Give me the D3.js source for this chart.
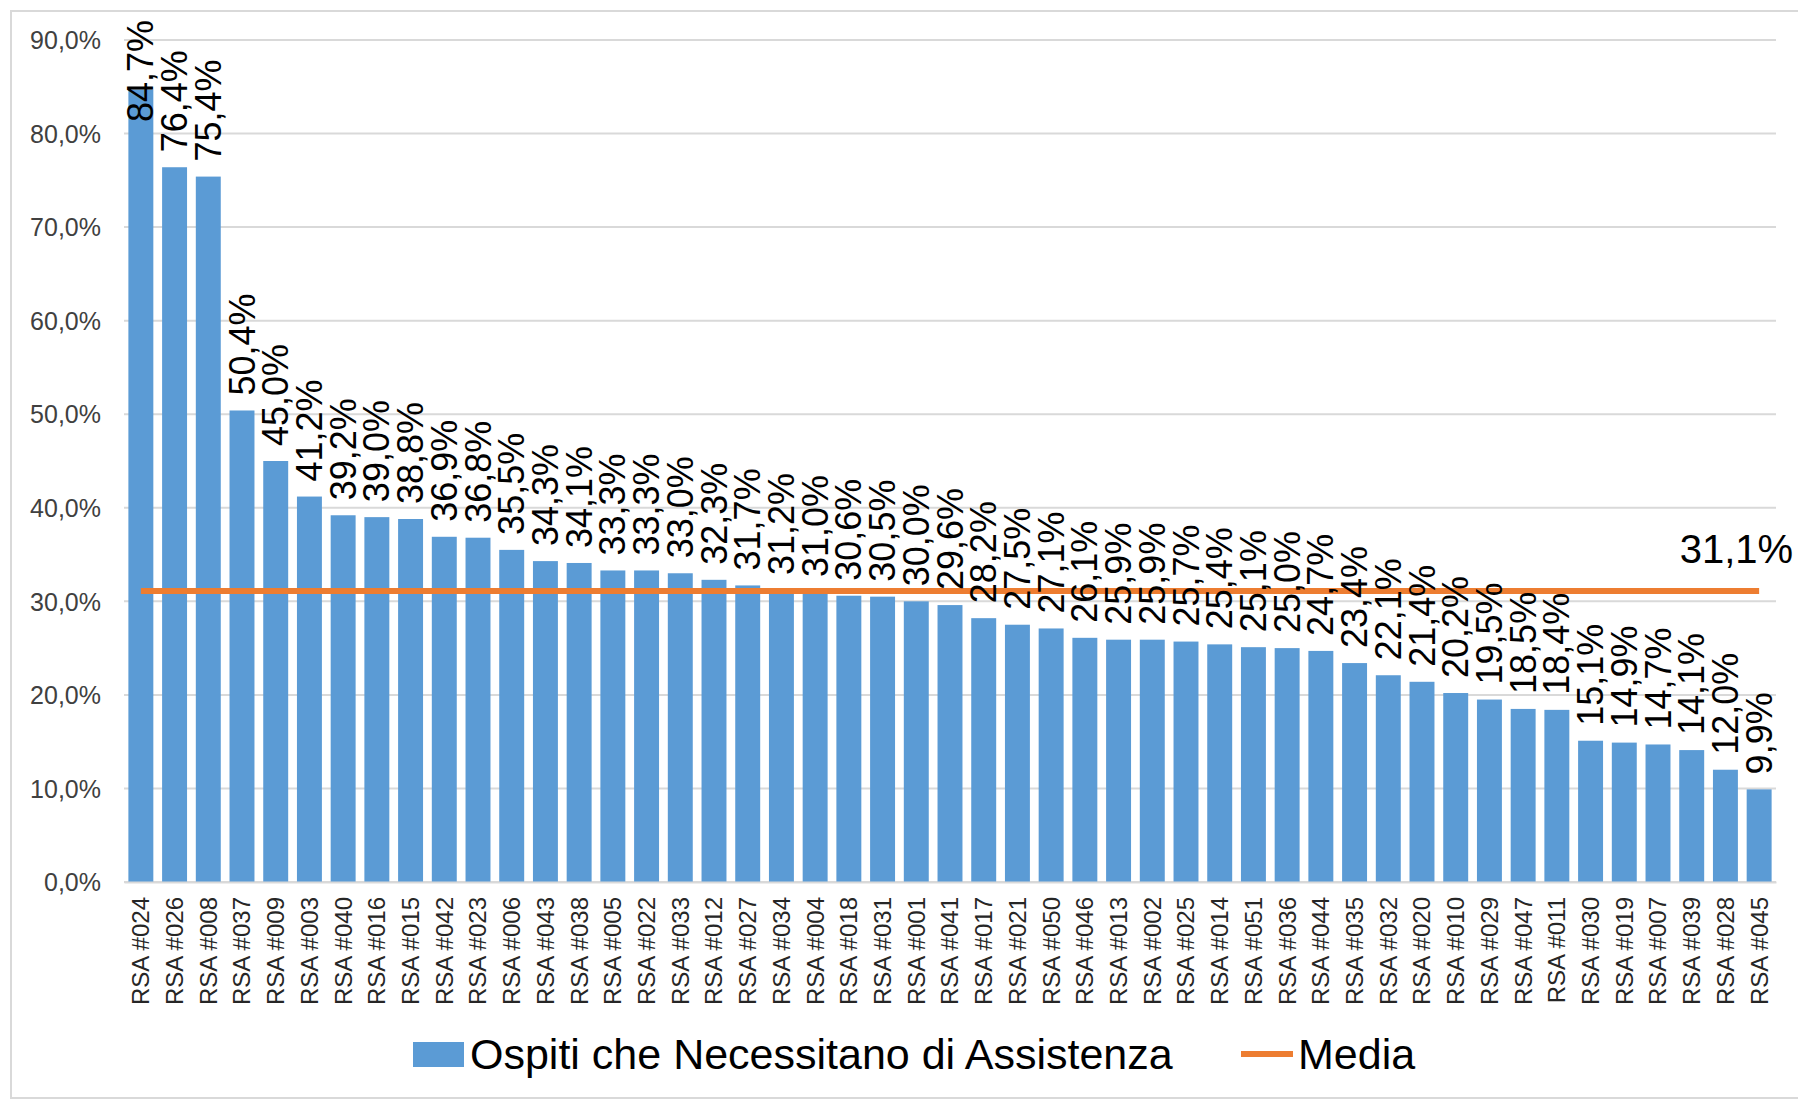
<!DOCTYPE html>
<html>
<head>
<meta charset="utf-8">
<script src="https://cdn.jsdelivr.net/npm/d3@7/dist/d3.min.js"></script>
<style>
  html, body { margin: 0; padding: 0; background: #fff; }
  svg { display: block; font-family: "Liberation Sans", Arial, Helvetica, sans-serif; }
</style>
</head>
<body>
<svg id="chart" width="1798" height="1099"></svg>
<script>
const categories = ["RSA #024","RSA #026","RSA #008","RSA #037","RSA #009","RSA #003","RSA #040","RSA #016","RSA #015","RSA #042","RSA #023","RSA #006","RSA #043","RSA #038","RSA #005","RSA #022","RSA #033","RSA #012","RSA #027","RSA #034","RSA #004","RSA #018","RSA #031","RSA #001","RSA #041","RSA #017","RSA #021","RSA #050","RSA #046","RSA #013","RSA #002","RSA #025","RSA #014","RSA #051","RSA #036","RSA #044","RSA #035","RSA #032","RSA #020","RSA #010","RSA #029","RSA #047","RSA #011","RSA #030","RSA #019","RSA #007","RSA #039","RSA #028","RSA #045"];
const values = [84.7,76.4,75.4,50.4,45.0,41.2,39.2,39.0,38.8,36.9,36.8,35.5,34.3,34.1,33.3,33.3,33.0,32.3,31.7,31.2,31.0,30.6,30.5,30.0,29.6,28.2,27.5,27.1,26.1,25.9,25.9,25.7,25.4,25.1,25.0,24.7,23.4,22.1,21.4,20.2,19.5,18.5,18.4,15.1,14.9,14.7,14.1,12.0,9.9];
const mediaValue = 31.1;
const yTicks = [0,10,20,30,40,50,60,70,80,90];
const seriesNames = ["Ospiti che Necessitano di Assistenza", "Media"];

const fmt = v => d3.format(".1f")(v).replace(".", ",") + "%";

const svg = d3.select("#chart");
const plotL = 124, plotR = 1776, plotT = 40, plotB = 882;

const x = d3.scaleBand().domain(categories).range([plotL, plotR]).paddingInner(0.26).paddingOuter(0.13);
const y = d3.scaleLinear().domain([0, 90]).range([plotB, plotT]);

// outer border
svg.append("rect").attr("x", 11).attr("y", 11).attr("width", 1800).attr("height", 1087)
  .attr("fill", "none").attr("stroke", "#d9d9d9").attr("stroke-width", 2);

// gridlines
svg.append("g").selectAll("line").data(yTicks).join("line")
  .attr("x1", plotL).attr("x2", plotR)
  .attr("y1", d => y(d)).attr("y2", d => y(d))
  .attr("stroke", "#d9d9d9").attr("stroke-width", 2);

// y axis labels
const yAxis = d3.axisLeft(y).tickValues(yTicks).tickFormat(fmt).tickSize(0).tickPadding(0);
const yg = svg.append("g").attr("transform", `translate(${plotL - 23},0)`).call(yAxis);
yg.select(".domain").remove();
yg.selectAll("text").attr("font-size", 25).attr("fill", "#404040")
  .attr("font-family", "Liberation Sans, Arial, sans-serif").attr("dy", "0.35em");

// bars
svg.append("g").selectAll("rect").data(values).join("rect")
  .attr("x", (d, i) => x(categories[i]))
  .attr("width", x.bandwidth())
  .attr("y", d => y(d))
  .attr("height", d => plotB - y(d))
  .attr("fill", "#5B9BD5");

// x axis labels
const xAxis = d3.axisBottom(x).tickSize(0).tickPadding(0);
const xg = svg.append("g").attr("transform", `translate(0,${plotB})`).call(xAxis);
xg.select(".domain").attr("stroke", "#d9d9d9").attr("stroke-width", 2);
xg.selectAll("text")
  .attr("font-size", 24).attr("fill", "#262626")
  .attr("font-family", "Liberation Sans, Arial, sans-serif")
  .attr("text-anchor", "end")
  .attr("transform", "translate(0,15) rotate(-90)")
  .attr("x", 0).attr("y", 0).attr("dy", "0.35em");

// media line
const mediaLine = d3.line().x(d => x(d) + x.bandwidth() / 2).y(() => y(mediaValue));
svg.append("path").datum([categories[0], categories[categories.length - 1]])
  .attr("d", mediaLine).attr("stroke", "#ED7D31").attr("stroke-width", 6).attr("fill", "none");

// data labels
const labels = svg.append("g").selectAll("text").data(values).join("text")
  .attr("font-size", 36).attr("fill", "#000")
  .attr("text-anchor", "start")
  .attr("dy", "0.35em")
  .text(d => fmt(d));
labels.each(function(d, i) {
  const len = this.getComputedTextLength();
  const cx = x(categories[i]) + x.bandwidth() / 2;
  const startY = Math.max(y(d) - 15, 20 + len);
  d3.select(this).attr("transform", `translate(${cx},${startY}) rotate(-90)`);
});

// media label
const lastX = x(categories[categories.length - 1]) + x.bandwidth() / 2;
svg.append("text").attr("x", lastX + 34).attr("y", y(mediaValue) - 28)
  .attr("text-anchor", "end").attr("font-size", 40).attr("fill", "#000")
  .text(fmt(mediaValue));

// legend
const lg = svg.append("g");
lg.append("rect").attr("x", 413).attr("y", 1042).attr("width", 51).attr("height", 25).attr("fill", "#5B9BD5");
lg.append("text").attr("x", 470).attr("y", 1054).attr("dy", "0.35em").attr("font-size", 43).attr("fill", "#000").text(seriesNames[0]);
lg.append("line").attr("x1", 1241).attr("x2", 1293).attr("y1", 1054).attr("y2", 1054).attr("stroke", "#ED7D31").attr("stroke-width", 6);
lg.append("text").attr("x", 1298).attr("y", 1054).attr("dy", "0.35em").attr("font-size", 43).attr("fill", "#000").text(seriesNames[1]);
</script>
</body>
</html>
